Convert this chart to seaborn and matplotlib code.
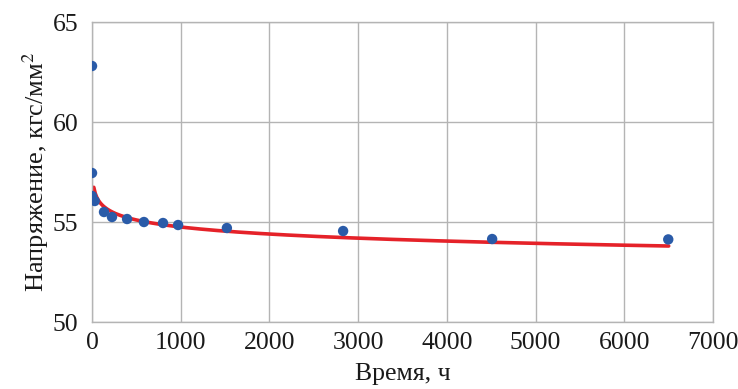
import numpy as np
import pandas as pd
import matplotlib
matplotlib.use("Agg")
import matplotlib.pyplot as plt
import seaborn as sns

# Data
time_h = [0, 0, 0, 30, 135, 225, 395, 585, 800, 970, 1520, 2830, 4510, 6495]
stress = [62.8, 57.45, 56.3, 56.05, 55.5, 55.25, 55.15, 55.0, 54.95, 54.85, 54.7, 54.55, 54.15, 54.13]

# Trend line (logarithmic fit): y = c + d*ln(x)
trend_c = 58.256
trend_d = -0.5075
trend_x_start = 20
trend_x_end = 6500

x_ticks = [0, 1000, 2000, 3000, 4000, 5000, 6000, 7000]
y_ticks = [50, 55, 60, 65]

sns.set_theme(style="whitegrid")
plt.rcParams['font.family'] = ['Liberation Serif', 'DejaVu Serif']
plt.rcParams['mathtext.fontset'] = 'stix'

fig = plt.figure(figsize=(7.38, 3.89), dpi=100)
ax = fig.add_axes([0.1247, 0.1722, 0.8415, 0.7712])

df = pd.DataFrame({"t": time_h, "s": stress})
tx = np.linspace(trend_x_start, trend_x_end, 400)
trend = pd.DataFrame({"t": tx, "s": trend_c + trend_d * np.log(tx)})

sns.lineplot(data=trend, x="t", y="s", ax=ax, color="#e52229", linewidth=2.6, zorder=2)
sns.scatterplot(data=df, x="t", y="s", ax=ax, color="#2a5ba8", s=56, edgecolor="none", zorder=3)

ax.set_xlim(0, 7000)
ax.set_ylim(50, 65)
ax.set_xticks(x_ticks)
ax.set_yticks(y_ticks)
ax.grid(True, color="#b4b4b4", linewidth=1.0)
for sp in ax.spines.values():
    sp.set_color("#b4b4b4")
    sp.set_linewidth(1.0)
ax.tick_params(axis="both", labelsize=18.5, colors="#1a1a1a", length=0)
ax.tick_params(axis="y", pad=10)
ax.tick_params(axis="x", pad=7)
ax.set_xlabel("Время, ч", fontsize=18.5, color="#1a1a1a", labelpad=7)
ax.set_ylabel("Напряжение, кгс/мм$^2$", fontsize=19, color="#1a1a1a", labelpad=1)

fig.savefig("out.png", dpi=100)
